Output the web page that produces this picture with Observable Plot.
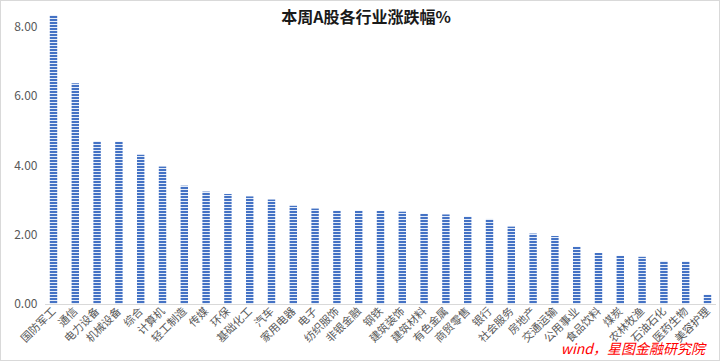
<!DOCTYPE html>
<html>
<head>
<meta charset="utf-8">
<script src="https://cdn.jsdelivr.net/npm/d3@7"></script>
<script src="https://cdn.jsdelivr.net/npm/@observablehq/plot@0.6"></script>
<style>
  html, body { margin: 0; padding: 0; background: #fff; }
  #wrap { position: relative; width: 720px; height: 361px; box-sizing: border-box; border: 1px solid #d9d9d9; overflow: hidden; font-family: "Noto Sans CJK SC", "Noto Sans", sans-serif; }
  #title { position: absolute; left: 0; right: 0; top: 3px; text-align: center; font-size: 16px; font-weight: bold; color: #1a1a1a; padding-left: 12px; }
  #source { position: absolute; right: 14px; bottom: 2px; color: #ff0000; font-style: italic; font-size: 14px; }
  #chart svg { display: block; }
</style>
</head>
<body>
<div id="wrap">
  <div id="chart"></div>
  <div id="title">本周A股各行业涨跌幅%</div>
  <div id="source">wind，星图金融研究院</div>
</div>
<script>
const industries = ["国防军工","通信","电力设备","机械设备","综合","计算机","轻工制造","传媒","环保","基础化工","汽车","家用电器","电子","纺织服饰","非银金融","钢铁","建筑装饰","建筑材料","有色金属","商贸零售","银行","社会服务","房地产","交通运输","公用事业","食品饮料","煤炭","农林牧渔","石油石化","医药生物","美容护理"];
const changes = [8.32,6.36,4.69,4.68,4.30,3.96,3.41,3.24,3.17,3.10,3.01,2.83,2.75,2.69,2.69,2.68,2.66,2.60,2.58,2.52,2.45,2.23,2.03,1.96,1.65,1.47,1.39,1.36,1.24,1.23,0.27];
const yTicks = [0, 2, 4, 6, 8];

const data = industries.map((name, i) => ({name, value: changes[i]}));

const chart = Plot.plot({
  width: 718,
  height: 359,
  marginTop: 8,
  marginBottom: 56,
  marginLeft: 44,
  marginRight: 3,
  style: {fontFamily: "'Noto Sans CJK SC', 'Noto Sans', sans-serif", background: "transparent", overflow: "visible"},
  x: {domain: industries, paddingInner: 0.66, paddingOuter: 0.22, round: false, label: null},
  y: {domain: [0, 8.5], label: null},
  marks: [
    Plot.barY(data, {x: "name", y: "value", fill: "url(#stripes)"}),
    Plot.ruleY([0], {stroke: "#d9d9d9", strokeWidth: 1}),
    Plot.axisY(yTicks, {tickSize: 0, tickPadding: 8, tickFormat: d => d.toFixed(2), fontSize: 12, fill: "#595959", label: null}),
    Plot.axisX({tickSize: 0, tickPadding: 5, tickRotate: -45, fontSize: 11, fill: "#595959", label: null})
  ]
});

const ns = "http://www.w3.org/2000/svg";
const defs = document.createElementNS(ns, "defs");
const pat = document.createElementNS(ns, "pattern");
pat.setAttribute("id", "stripes");
pat.setAttribute("patternUnits", "userSpaceOnUse");
pat.setAttribute("width", "4");
pat.setAttribute("height", "3");
const bg = document.createElementNS(ns, "rect");
bg.setAttribute("width", "4"); bg.setAttribute("height", "3"); bg.setAttribute("fill", "#e6edf9");
const ln = document.createElementNS(ns, "rect");
ln.setAttribute("width", "4"); ln.setAttribute("height", "2"); ln.setAttribute("fill", "#4472c4");
pat.appendChild(bg); pat.appendChild(ln);
defs.appendChild(pat);
chart.insertBefore(defs, chart.firstChild);

document.getElementById("chart").appendChild(chart);
</script>
</body>
</html>
